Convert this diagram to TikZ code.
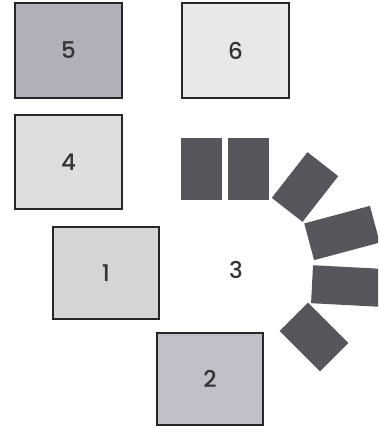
\documentclass[tikz,border=0pt]{standalone}
\usepackage{fontspec}
\setmainfont{Poppins}[UprightFont=* Medium]
\begin{document}
\begin{tikzpicture}[x=1pt,y=1pt,
  box/.style={draw=black!85,line width=2pt,inner sep=0pt,font=\fontsize{23}{23}\selectfont,text=black!80},
  chair/.style={fill=chairgray,draw=none,inner sep=0pt}]
\definecolor{chairgray}{RGB}{86,86,92}
\definecolor{c5}{RGB}{176,176,186}
\definecolor{c6}{RGB}{232,232,232}
\definecolor{c4}{RGB}{222,222,222}
\definecolor{c1}{RGB}{214,214,216}
\definecolor{c2}{RGB}{192,192,200}
\useasboundingbox (0,0) rectangle (378,-427);
\clip (0,0) rectangle (378,-427);
\node[box,fill=c5,minimum width=107,minimum height=95] (b5) at (68.5,-50.5) {5};
\node[box,fill=c6,minimum width=107,minimum height=95] (b6) at (235.5,-50.5) {6};
\node[box,fill=c4,minimum width=107,minimum height=94] (b4) at (68.5,-162) {4};
\node[box,fill=c1,minimum width=106,minimum height=92] (b1) at (106,-273) {1};
\node[box,fill=c2,minimum width=106,minimum height=92] (b2) at (210,-379) {2};
\node[font=\fontsize{23}{23}\selectfont,text=black!80] (t3) at (236,-270) {3};
\node[chair,minimum width=41,minimum height=62] (ch1) at (201.5,-169) {};
\node[chair,minimum width=41,minimum height=62] (ch2) at (248.5,-169) {};
\node[chair,minimum width=58,minimum height=39,rotate=52] (ch3) at (305,-187) {};
\node[chair,minimum width=68,minimum height=38,rotate=15] (ch4) at (342,-233) {};
\node[chair,minimum width=68,minimum height=38,rotate=-3] (ch5) at (346,-286) {};
\node[chair,minimum width=57,minimum height=40,rotate=-45] (ch6) at (314,-337) {};
\end{tikzpicture}
\end{document}
